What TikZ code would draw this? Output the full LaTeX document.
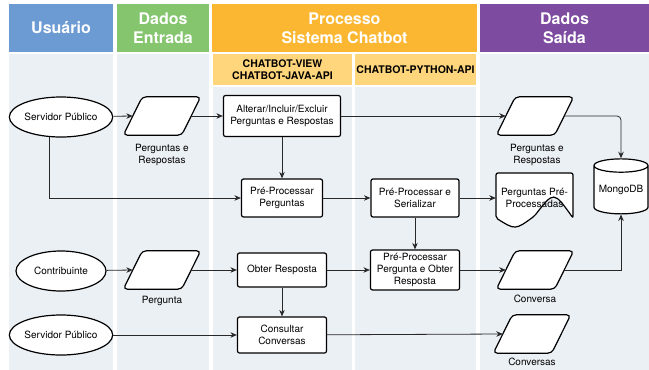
\documentclass[tikz,border=0pt]{standalone}
\usepackage{fontspec}
\setmainfont{TeX Gyre Heros}
\usetikzlibrary{shapes.geometric,arrows.meta,calc}

\definecolor{hdrBlue}{RGB}{108,155,212}
\definecolor{hdrGreen}{RGB}{132,197,110}
\definecolor{hdrOrange}{RGB}{252,183,50}
\definecolor{subOrange}{RGB}{255,214,124}
\definecolor{hdrPurple}{RGB}{125,75,160}
\definecolor{laneBg}{RGB}{235,240,245}
\definecolor{lineGray}{RGB}{40,40,40}

% parallelogram drawn round an empty node, with in/out points on its slanted sides
\newcommand{\datashape}[1]{%
  \draw[datline] (#1.south west) -- ($(#1.north west)+(19,0)$) -- (#1.north east)
    -- ($(#1.south east)+(-19,0)$) -- cycle;
  \coordinate (#1-in) at ($(#1.west)+(9.5,0)$);
  \coordinate (#1-out) at ($(#1.east)+(-9.5,0)$);}

\begin{document}
\begin{tikzpicture}[
    x=1pt, y=-1pt,
    lane/.style={fill=laneBg},
    hdr/.style={text=white, font=\fontsize{16}{19}\selectfont\bfseries,
      align=center, inner sep=0pt, minimum height=48pt},
    subhdr/.style={fill=subOrange, font=\fontsize{10.5}{12}\selectfont\bfseries,
      align=center, inner sep=0pt, minimum height=31pt},
    proc/.style={draw, line width=1.2pt, rounded corners=2pt, fill=white,
      align=center, font=\fontsize{10}{12}\selectfont, inner sep=1pt},
    actor/.style={ellipse, draw, line width=1.2pt, fill=white, inner sep=0pt,
      minimum width=90pt, minimum height=40pt, font=\fontsize{10}{12}\selectfont},
    dat/.style={inner sep=0pt, minimum width=77pt, minimum height=38pt},
    datline/.style={draw, line width=1.2pt, rounded corners=4pt, fill=white},
    docshape/.style={draw, line width=1.2pt, fill=white, rounded corners=2pt},
    db/.style={cylinder, shape border rotate=90, aspect=0.3, draw, line width=1.2pt,
      fill=white, minimum width=54pt, minimum height=55pt, inner sep=0pt,
      font=\fontsize{10}{12}\selectfont},
    lbl/.style={font=\fontsize{10}{12}\selectfont, align=center},
    conn/.style={draw=lineGray, line width=0.8pt, -{Stealth[length=6.5pt,width=5.5pt]}}
  ]
    \useasboundingbox (0,0) rectangle (649,370);

    \fill[lane] (9,54) rectangle (113,370);
    \fill[lane] (117,54) rectangle (209,370);
    \fill[lane] (213,87) rectangle (352,370);
    \fill[lane] (355,87) rectangle (476,370);
    \fill[lane] (480,54) rectangle (649,370);

    \node[hdr, fill=hdrBlue, minimum width=104pt] (hUser) at (61,28) {Usuário};
    \node[hdr, fill=hdrGreen, minimum width=92pt] (hIn) at (163,28) {Dados\\Entrada};
    \node[hdr, fill=hdrOrange, minimum width=265pt] (hProc) at (344.5,28) {Processo\\Sistema Chatbot};
    \node[hdr, fill=hdrPurple, minimum width=169pt] (hOut) at (564.5,28) {Dados\\Saída};
    \node[subhdr, minimum width=139pt] (hJava) at (282.5,69.5) {CHATBOT-VIEW\\CHATBOT-JAVA-API};
    \node[subhdr, minimum width=121pt] (hPy) at (415.5,69.5) {CHATBOT-PYTHON-API};

    \node[actor] (sp1) at (61,117) {Servidor Público};
    \node[actor] (contrib) at (61,271) {Contribuinte};
    \node[actor] (sp2) at (61,335) {Servidor Público};

    \node[dat] (pin1) at (162,116) {};
    \datashape{pin1}
    \node[lbl] at (162,155) {Perguntas e\\Respostas};
    \node[dat] (pin2) at (162,270) {};
    \datashape{pin2}
    \node[lbl] at (162,301) {Pergunta};

    \node[proc, minimum width=117pt, minimum height=41pt] (alter) at (282,116) {Alterar/Incluir/Excluir\\Perguntas e Respostas};
    \node[proc, minimum width=81pt, minimum height=38pt] (ppperg) at (282,198) {Pré-Processar\\Perguntas};
    \node[proc, minimum width=89pt, minimum height=34pt] (obter) at (282,270) {Obter Resposta};
    \node[proc, minimum width=89pt, minimum height=36pt] (consult) at (282,335) {Consultar\\Conversas};

    \node[proc, minimum width=88pt, minimum height=38pt] (serial) at (415,198) {Pré-Processar e\\Serializar};
    \node[proc, minimum width=89pt, minimum height=40pt] (ppobter) at (415,270) {Pré-Processar\\Pergunta e Obter\\Resposta};

    \node[dat] (pout1) at (535,116) {};
    \datashape{pout1}
    \node[lbl] at (537,155) {Perguntas e\\Respostas};
    \coordinate (docc) at (534.5,198);
    \draw[docshape] ($(docc)+(-38.5,-25)$) -- ($(docc)+(38.5,-25)$) -- ($(docc)+(38.5,20)$)
      .. controls ($(docc)+(19.25,-7)$) .. ($(docc)+(0,18)$)
      .. controls ($(docc)+(-19.25,32)$) .. ($(docc)+(-38.5,20)$) -- cycle;
    \node[lbl, minimum width=77pt, minimum height=44pt, inner sep=0pt] (ppdoc) at (docc) {Perguntas Pré-\\Processadas};
    \node[dat] (pout2) at (535,270) {};
    \datashape{pout2}
    \node[lbl] at (535,299) {Conversa};
    \node[dat] (pout3) at (532,334) {};
    \datashape{pout3}
    \node[lbl] at (532,362) {Conversas};

    \node[db] (mongo) at (621,190) {MongoDB};

    \draw[conn] (sp1) -- (pin1-in);
    \draw[conn] (pin1-out) -- (alter);
    \draw[conn] (alter) -- (pout1-in);
    \draw[conn, rounded corners=4pt] (pout1-out) -| (mongo.north);
    \draw[conn] (sp1.240) |- (ppperg.west);
    \draw[conn] (alter) -- (ppperg);
    \draw[conn] (ppperg) -- (serial);
    \draw[conn] (serial) -- (ppdoc.west);
    \draw[conn] (serial) -- (ppobter);

    \draw[conn] (contrib) -- (pin2-in);
    \draw[conn] (pin2-out) -- (obter);
    \draw[conn] (obter) -- (ppobter);
    \draw[conn] (ppobter) -- (pout2-in);
    \draw[conn] (pout2-out) -| (mongo.south);
    \draw[conn] (obter) -- (consult);
    \draw[conn] (sp2) -- (consult);
    \draw[conn] (consult) -- (pout3-in);
  \end{tikzpicture}
\end{document}
